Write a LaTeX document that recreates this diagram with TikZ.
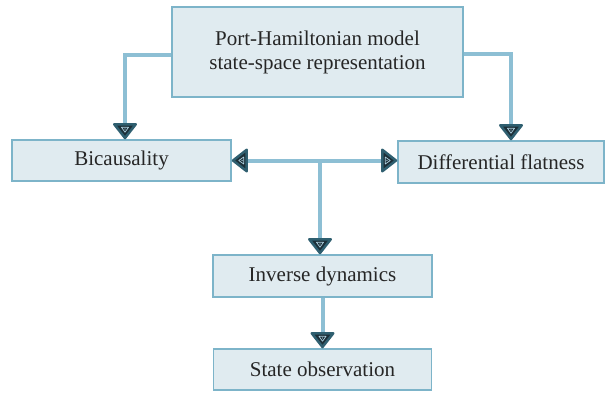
\documentclass[tikz,border=0pt]{standalone}
\usepackage{fontspec}
\setmainfont{Liberation Serif}
\usetikzlibrary{arrows.meta,decorations.markings}

\definecolor{boxfill}{HTML}{E0EBF0}
\definecolor{boxline}{HTML}{7DB4C9}
\definecolor{wire}{HTML}{8DBFD4}
\definecolor{tipdark}{HTML}{1C2F38}
\definecolor{tipglow}{HTML}{2F5F70}

\begin{document}
\begin{tikzpicture}[x=1pt,y=-1pt,
  box/.style={draw=boxline,line width=1.5pt,fill=boxfill,inner sep=0pt,
    font=\fontsize{21}{24}\selectfont,text=black!85,align=center},
  link/.style={draw=wire,line width=4pt,
    -{Triangle[round,width=26pt,length=17pt,line width=2.5pt,color=tipglow,fill=tipdark]},
    postaction={decorate},
    decoration={markings,mark=at position 1 with {
      \draw[wire!70!white,line width=0.7pt,line join=round]
        (-12pt,3.5pt) -- (-7pt,0pt) -- (-12pt,-3.5pt) -- cycle;
      \fill[wire!70!white] (-10.3pt,0pt) circle (0.7pt);}}}]
  \useasboundingbox (0,0) rectangle (606,392);
  \node[box,minimum width=291pt,minimum height=90pt] (model) at (317.5,52)
    {Port-Hamiltonian model\\state-space representation};
  \node[box,minimum width=219pt,minimum height=41pt] (bic) at (121.5,160.5) {Bicausality};
  \node[box,minimum width=206pt,minimum height=42pt] (flat) at (501,162) {Differential flatness};
  \node[box,minimum width=219pt,minimum height=42pt] (inv) at (322.5,276) {Inverse dynamics};
  \node[box,minimum width=218pt,minimum height=41pt] (obs) at (322.5,369.5) {State observation};

  \draw[link] ([yshift=-3pt]model.west) -| ([xshift=3.5pt]bic.north);
  \draw[link] ([yshift=-2pt]model.east) -| ([xshift=10pt]flat.north);
  \coordinate (jn) at ([xshift=-2.5pt]inv.north |- bic.east);
  \draw[link] (jn) -- (bic.east);
  \draw[link] (jn) -- (jn -| flat.west);
  \draw[link] (jn) -- ([xshift=-2.5pt]inv.north);
  \draw[link] (inv.south) -- (obs.north);
\end{tikzpicture}
\end{document}
